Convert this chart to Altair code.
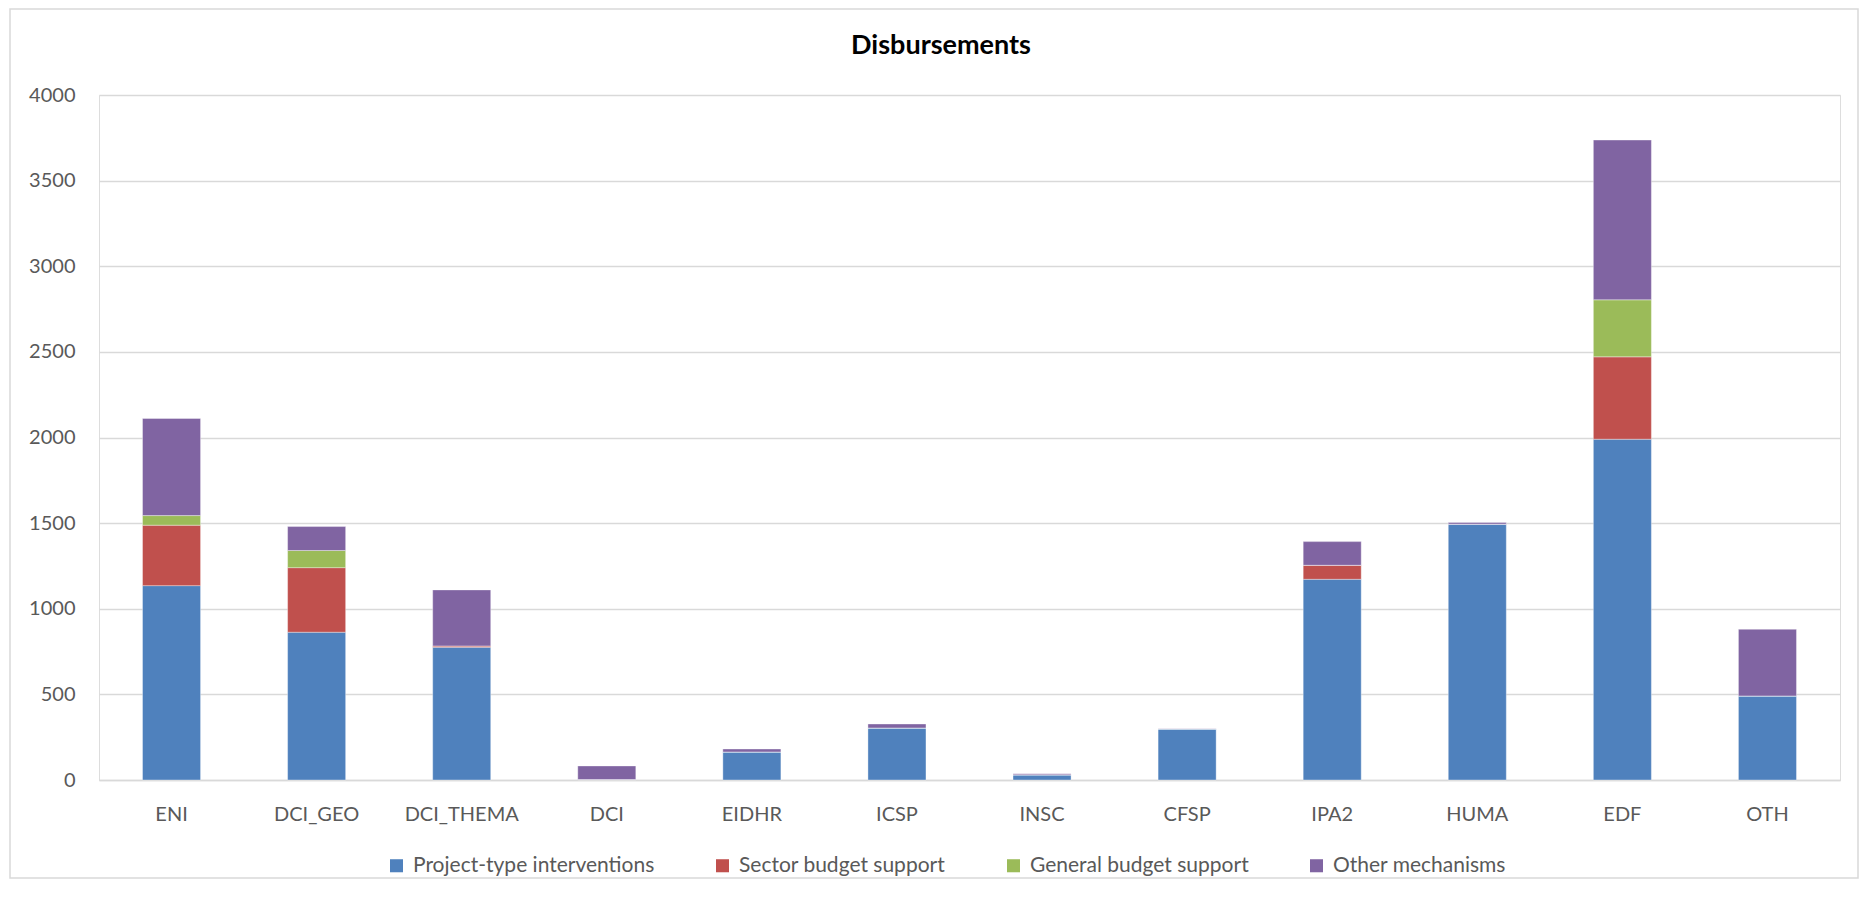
import altair as alt
import pandas as pd

categories = ["ENI", "DCI_GEO", "DCI_THEMA", "DCI", "EIDHR", "ICSP", "INSC", "CFSP", "IPA2", "HUMA", "EDF", "OTH"]
series = ["Project-type interventions", "Sector budget support", "General budget support", "Other mechanisms"]
colors = ["#4F81BD", "#C0504D", "#9BBB59", "#8064A2"]
project = [1135, 863, 775, 3, 164, 304, 29, 298, 1172, 1494, 1990, 491]
sector = [353, 377, 8, 0, 0, 0, 2, 0, 82, 0, 481, 0]
general = [56, 100, 0, 0, 0, 0, 0, 0, 0, 0, 333, 0]
other = [567, 140, 327, 79, 17, 23, 6, 2, 138, 9, 933, 389]
y_ticks = [0, 500, 1000, 1500, 2000, 2500, 3000, 3500, 4000]
title_text = "Disbursements"

rows = []
for si, (name, vals) in enumerate(zip(series, [project, sector, general, other])):
    for c, v in zip(categories, vals):
        rows.append({"category": c, "series": name, "value": v, "order": si})
df = pd.DataFrame(rows)

W, H = 1741, 685
PL, PT, PR, PB = 91, 87, 20, 100
FONT = "Lato"

bars = alt.Chart(df).mark_bar(stroke="#ffffff", strokeWidth=0.6, strokeOpacity=0.6).encode(
    x=alt.X("category:N", sort=categories, title=None,
            scale=alt.Scale(paddingInner=0.6, paddingOuter=0.3),
            axis=alt.Axis(labelAngle=0, labelPadding=24, ticks=False, domain=True,
                          domainColor="#d9d9d9", domainWidth=1.5, labelFontSize=20,
                          labelColor="#595959", labelFont=FONT)),
    y=alt.Y("value:Q", stack="zero", title=None,
            scale=alt.Scale(domain=[0, 4000], nice=False),
            axis=alt.Axis(values=y_ticks, format="d", labelPadding=24, ticks=False, domain=False,
                          gridColor="#d9d9d9", gridWidth=1.5, labelFontSize=20,
                          labelColor="#595959", labelFont=FONT)),
    color=alt.Color("series:N", sort=series,
                    scale=alt.Scale(domain=series, range=colors),
                    legend=alt.Legend(title=None, orient="none", direction="horizontal",
                                      legendX=287, legendY=760, symbolType="square",
                                      symbolSize=170, symbolStrokeWidth=0, labelLimit=0,
                                      labelFontSize=21, labelColor="#595959", labelFont=FONT,
                                      columnPadding=57, labelOffset=6)),
    order=alt.Order("order:Q", sort="ascending"),
)

border = alt.Chart(pd.DataFrame({"a": [0]})).mark_rect(
    fill=None, stroke="#d9d9d9", strokeWidth=1.5
).encode(
    x=alt.value(-PL + 2), x2=alt.value(W + PR - 2),
    y=alt.value(-PT + 1), y2=alt.value(H + PB - 2),
)

title = alt.Chart(pd.DataFrame({"t": [title_text]})).mark_text(
    font=FONT, fontSize=27, fontWeight="bold", color="#000000", align="center", baseline="middle"
).encode(text="t:N", x=alt.value(842), y=alt.value(-49))

chart = alt.layer(border, title, bars).properties(
    width=W, height=H,
    autosize=alt.AutoSizeParams(type="none"),
    padding={"left": PL, "top": PT, "right": PR, "bottom": PB},
).configure_view(stroke=None).configure(background="#ffffff")

chart.save("out.html", embed_options={"renderer": "svg", "actions": False})
